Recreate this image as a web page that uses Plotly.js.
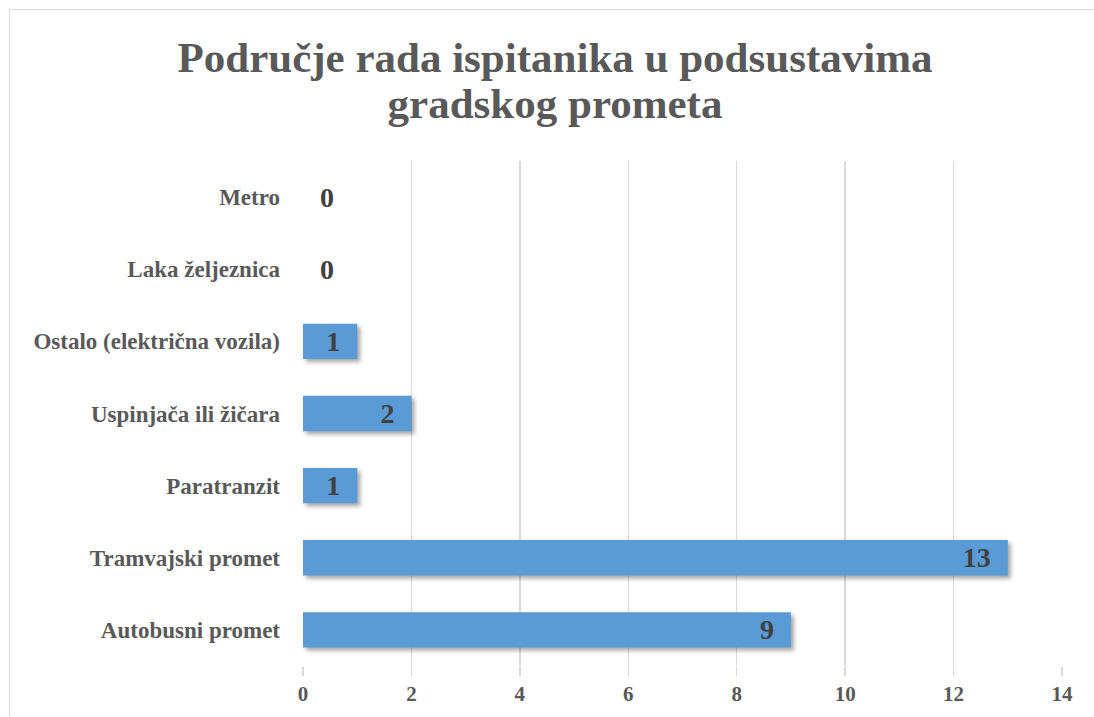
<!DOCTYPE html>
<html>
<head>
<meta charset="utf-8">
<script src="https://cdn.plot.ly/plotly-3.0.1.min.js"></script>
<style>
html,body{margin:0;padding:0;background:#fff;}
#wrap{position:absolute;left:0;top:0;width:1094px;height:717px;}
#frame{position:absolute;left:9px;top:9px;width:1100px;height:720px;border:1px solid #d9d9d9;box-sizing:border-box;pointer-events:none;}
#chart{position:absolute;left:0;top:0;width:1094px;height:717px;}
</style>
</head>
<body>
<div id="wrap"><div id="chart"></div><div id="frame"></div></div>
<script>
const categories = ["Autobusni promet","Tramvajski promet","Paratranzit","Uspinjača ili žičara","Ostalo (električna vozila)","Laka željeznica","Metro"];
const values = [9, 13, 1, 2, 1, 0, 0];
const xTicks = [0, 2, 4, 6, 8, 10, 12, 14];
const titleText = "Područje rada ispitanika u podsustavima<br>gradskog prometa";

const serif = "Liberation Serif, Times New Roman, serif";
const trace = {
  type: "bar",
  orientation: "h",
  y: categories,
  x: values,
  marker: {color: "#5b9bd5"},
  width: 0.49,
  text: values.map(v => v > 0 ? v + "\u2002" : "\u2002" + v),
  textposition: values.map(v => v > 0 ? "inside" : "outside"),
  insidetextanchor: "end",
  textangle: 0,
  constraintext: "none",
  cliponaxis: false,
  textfont: {family: serif, size: 28, color: "#404040", weight: "bold"},
  hoverinfo: "none"
};
const layout = {
  width: 1094, height: 717,
  margin: {l: 303, r: 32, t: 161, b: 51},
  paper_bgcolor: "#fff", plot_bgcolor: "#fff",
  showlegend: false,
  title: {
    text: titleText,
    font: {family: serif, size: 43, color: "#595959", weight: "bold"},
    x: 555/1094, xanchor: "center", xref: "container",
    y: 1 - 72/717, yanchor: "middle", yref: "container"
  },
  xaxis: {
    range: [0, 14],
    tickvals: xTicks,
    ticktext: xTicks.map(String),
    showgrid: true, gridcolor: "#d9d9d9", gridwidth: 1.5,
    zeroline: false, showline: false,
    ticks: "outside", ticklen: 9, tickcolor: "#d9d9d9", tickwidth: 1.5,
    tickfont: {family: serif, size: 21, color: "#595959", weight: "bold"},
    fixedrange: true
  },
  yaxis: {
    type: "category",
    categoryorder: "array", categoryarray: categories,
    showgrid: false, zeroline: false, showline: false,
    ticks: "", ticklabelstandoff: 22,
    tickfont: {family: serif, size: 23, color: "#595959", weight: "bold"},
    fixedrange: true
  },
  bargap: 0.51
};
Plotly.newPlot("chart", [trace], layout, {displayModeBar: false, staticPlot: true}).then(() => {
  document.querySelectorAll("#chart .bars path").forEach(p => {
    p.style.filter = "drop-shadow(3px 3px 2px rgba(0,0,0,0.35))";
  });
  const t = document.querySelector("#chart .gtitle");
  if (t) {
    const lines = t.querySelectorAll("tspan.line");
    if (lines.length === 2) {
      lines[1].setAttribute("dy", "1.07em");
    }
  }
});
</script>
</body>
</html>
